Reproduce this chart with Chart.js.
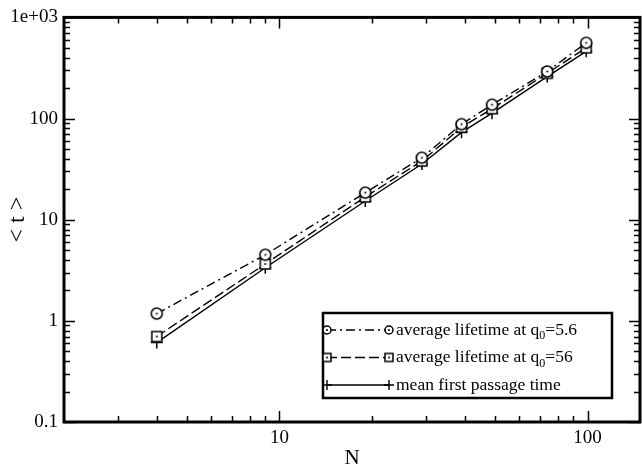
<!DOCTYPE html>
<html>
<head>
<meta charset="utf-8">
<script src="https://cdn.jsdelivr.net/npm/chart.js@4/dist/chart.umd.min.js"></script>
<style>
  html, body { margin: 0; padding: 0; background: #fff; }
  #wrap { width: 642px; height: 466px; }
</style>
</head>
<body>
<div id="wrap"><canvas id="c" width="642" height="466"></canvas></div>
<script>
// System sizes N and the measured times <t>
const sizeN = [4, 9, 19, 29, 39, 49, 74, 99];
const lifetimeQ5_6 = [1.18, 4.5, 18.5, 41, 88, 137, 292, 560];
const lifetimeQ56 = [0.70, 3.65, 16.8, 38, 82, 125, 280, 500];
const firstPassage = [0.61, 3.35, 15.3, 35.5, 73, 113, 260, 462];

// Axis ticks
const xMajorTicks = [10, 100];
const xMinorTicks = [3, 4, 5, 6, 7, 8, 9, 20, 30, 40, 50, 60, 70, 80, 90];
const yMajorTicks = [0.1, 1, 10, 100, 1000];
const yMinorTicks = [];
for (const e of [0.1, 1, 10, 100]) for (let k = 2; k <= 9; k++) yMinorTicks.push(+(k * e).toPrecision(3));

const legendLabels = [
  { pre: 'average lifetime at q', sub: '0', post: '=5.6' },
  { pre: 'average lifetime at q', sub: '0', post: '=56' },
  { pre: 'mean first passage time', sub: '', post: '' }
];

const SERIF = "'Liberation Serif', 'Times New Roman', serif";

function ringMarker(r) {
  const s = Math.ceil(2 * r + 4);
  const c = document.createElement('canvas');
  c.width = c.height = s;
  const g = c.getContext('2d');
  g.lineWidth = 1.5; g.strokeStyle = '#000'; g.fillStyle = '#fff';
  g.beginPath(); g.arc(s / 2, s / 2, r, 0, Math.PI * 2); g.fill(); g.stroke();
  g.fillStyle = '#000';
  g.beginPath(); g.arc(s / 2, s / 2, 1, 0, Math.PI * 2); g.fill();
  return c;
}
function boxMarker(r) {
  const s = Math.ceil(2 * r + 4);
  const c = document.createElement('canvas');
  c.width = c.height = s;
  const g = c.getContext('2d');
  g.lineWidth = 1.5; g.strokeStyle = '#000'; g.fillStyle = '#fff';
  g.beginPath(); g.rect(s / 2 - r, s / 2 - r, 2 * r, 2 * r); g.fill(); g.stroke();
  g.fillStyle = '#000';
  g.beginPath(); g.arc(s / 2, s / 2, 1, 0, Math.PI * 2); g.fill();
  return c;
}

const ringBig = ringMarker(5.5), ringSmall = ringMarker(4);
const boxBig = boxMarker(5), boxSmall = boxMarker(4);

const pairs = ys => sizeN.map((n, i) => ({ x: n, y: ys[i] }));

const dashDot = [9, 4, 2, 4];
const dashed = [10, 4];

function drawCross(ctx, x, y, r) {
  ctx.beginPath();
  ctx.moveTo(x - r, y); ctx.lineTo(x + r, y);
  ctx.moveTo(x, y - r); ctx.lineTo(x, y + r);
  ctx.stroke();
}

const framePlugin = {
  id: 'frameAndLegend',
  afterDraw(chart) {
    const { ctx, chartArea: ca } = chart;
    const xs = chart.scales.x, ys = chart.scales.y;
    ctx.save();
    ctx.strokeStyle = '#000';
    // inward tick marks on all four sides
    ctx.lineWidth = 1.5;
    const xt = (list, len) => list.forEach(v => {
      const p = Math.round(xs.getPixelForValue(v)) + 0.5;
      ctx.beginPath();
      ctx.moveTo(p, ca.bottom); ctx.lineTo(p, ca.bottom - len);
      ctx.moveTo(p, ca.top); ctx.lineTo(p, ca.top + len);
      ctx.stroke();
    });
    const yt = (list, len) => list.forEach(v => {
      const p = Math.round(ys.getPixelForValue(v)) + 0.5;
      ctx.beginPath();
      ctx.moveTo(ca.left, p); ctx.lineTo(ca.left + len, p);
      ctx.moveTo(ca.right, p); ctx.lineTo(ca.right - len, p);
      ctx.stroke();
    });
    xt(xMajorTicks, 11); xt(xMinorTicks, 6);
    yt(yMajorTicks, 11); yt(yMinorTicks, 6);
    // frame
    ctx.lineWidth = 3;
    ctx.strokeRect(ca.left, ca.top, ca.right - ca.left, ca.bottom - ca.top);

    // legend
    const bx = 323, by = 313, bw = 289, bh = 85;
    ctx.fillStyle = '#fff';
    ctx.fillRect(bx, by, bw, bh);
    ctx.lineWidth = 2.5;
    ctx.strokeRect(bx, by, bw, bh);
    const rowsY = [330, 357.5, 385];
    const x0 = 327, x1 = 389;
    ctx.lineWidth = 1.4;
    chart.data.datasets.forEach((ds, i) => {
      const y = rowsY[i];
      ctx.strokeStyle = '#000';
      ctx.setLineDash(ds.borderDash || []);
      ctx.beginPath(); ctx.moveTo(x0, y); ctx.lineTo(x1, y); ctx.stroke();
      ctx.setLineDash([]);
      if (i === 0) {
        ctx.drawImage(ringSmall, x0 - ringSmall.width / 2, y - ringSmall.height / 2);
        ctx.drawImage(ringSmall, x1 - ringSmall.width / 2, y - ringSmall.height / 2);
      } else if (i === 1) {
        ctx.drawImage(boxSmall, x0 - boxSmall.width / 2, y - boxSmall.height / 2);
        ctx.drawImage(boxSmall, x1 - boxSmall.width / 2, y - boxSmall.height / 2);
      } else {
        drawCross(ctx, x0, y, 5); drawCross(ctx, x1, y, 5);
      }
      const lab = legendLabels[i];
      ctx.fillStyle = '#000';
      ctx.textBaseline = 'middle';
      ctx.textAlign = 'left';
      ctx.font = '17.5px ' + SERIF;
      let tx = 396;
      ctx.fillText(lab.pre, tx, y);
      tx += ctx.measureText(lab.pre).width;
      if (lab.sub) {
        ctx.font = '12px ' + SERIF;
        ctx.fillText(lab.sub, tx, y + 6);
        tx += ctx.measureText(lab.sub).width;
        ctx.font = '17.5px ' + SERIF;
      }
      ctx.fillText(lab.post, tx, y);
    });
    ctx.restore();
  }
};

new Chart(document.getElementById('c'), {
  type: 'line',
  data: {
    datasets: [
      {
        label: 'average lifetime at q0=5.6',
        data: pairs(lifetimeQ5_6),
        borderColor: '#000', borderWidth: 1.4, borderDash: dashDot,
        pointStyle: ringBig, pointRadius: 5, tension: 0
      },
      {
        label: 'average lifetime at q0=56',
        data: pairs(lifetimeQ56),
        borderColor: '#000', borderWidth: 1.4, borderDash: dashed,
        pointStyle: boxBig, pointRadius: 5, tension: 0
      },
      {
        label: 'mean first passage time',
        data: pairs(firstPassage),
        borderColor: '#000', borderWidth: 1.4,
        pointStyle: 'cross', pointRadius: 6, pointBorderWidth: 1.5,
        pointBorderColor: '#000', tension: 0
      }
    ]
  },
  options: {
    responsive: false,
    devicePixelRatio: 1,
    animation: false,
    layout: { autoPadding: false, padding: { top: 17, right: 2, left: 0, bottom: 0 } },
    plugins: { legend: { display: false }, tooltip: { enabled: false } },
    scales: {
      x: {
        type: 'logarithmic', position: 'bottom', min: 2, max: 148, bounds: 'data',
        grid: { display: false, drawTicks: false }, border: { display: false },
        afterBuildTicks: s => { s.ticks = xMajorTicks.map(v => ({ value: v })); },
        afterFit: s => { s.height = 44; },
        ticks: {
          color: '#000', padding: 5, maxRotation: 0, autoSkip: false,
          font: { family: SERIF, size: 19 },
          callback: v => String(v)
        },
        title: {
          display: true, text: 'N', color: '#000',
          font: { family: SERIF, size: 21, lineHeight: 0.7 }, padding: 0
        }
      },
      y: {
        type: 'logarithmic', position: 'left', min: 0.1, max: 1000, bounds: 'data',
        grid: { display: false, drawTicks: false }, border: { display: false },
        afterBuildTicks: s => { s.ticks = yMajorTicks.map(v => ({ value: v })); },
        afterFit: s => { s.width = 64; },
        ticks: {
          color: '#000', padding: 6, autoSkip: false,
          font: { family: SERIF, size: 19 },
          callback: v => (v === 1000 ? '1e+03' : String(v))
        },
        title: {
          display: true, text: '< t >', color: '#000',
          font: { family: SERIF, size: 24, lineHeight: 1 }, padding: { top: 6, bottom: 0 }
        }
      }
    }
  },
  plugins: [framePlugin]
});
</script>
</body>
</html>
